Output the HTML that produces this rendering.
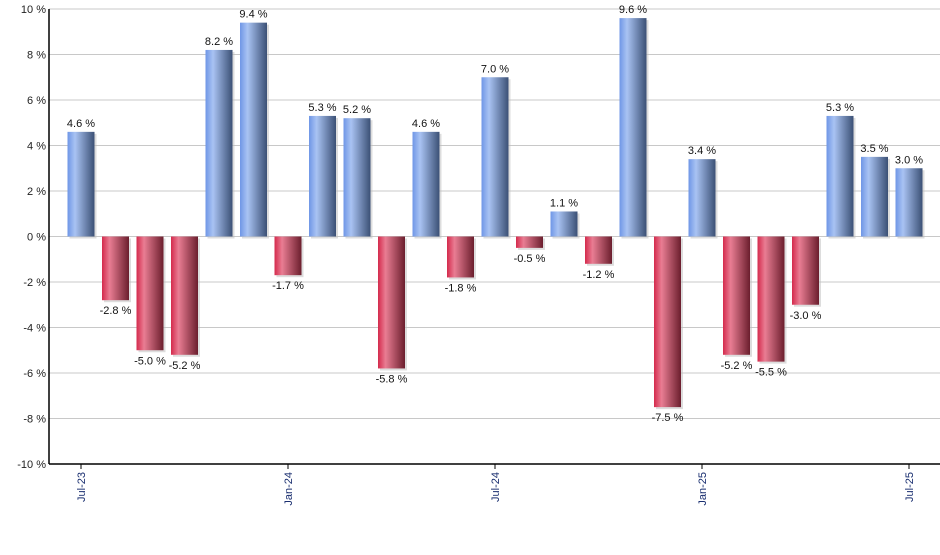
<!DOCTYPE html>
<html><head><meta charset="utf-8"><style>
body{margin:0;background:#fff;}
svg text{font-family:"Liberation Sans",sans-serif;font-size:11px;}
</style></head><body>
<svg id="chart" width="940" height="550" xmlns="http://www.w3.org/2000/svg">
<defs>
<linearGradient id="gb" x1="0" x2="1" y1="0" y2="0"><stop offset="0" stop-color="#6f96e6"/><stop offset="0.28" stop-color="#a9c3f3"/><stop offset="1" stop-color="#3b5075"/></linearGradient>
<linearGradient id="gr" x1="0" x2="1" y1="0" y2="0"><stop offset="0" stop-color="#d42a4c"/><stop offset="0.28" stop-color="#e97d93"/><stop offset="1" stop-color="#6b1e2d"/></linearGradient>
</defs>
<g id="grid"></g>
<g id="bars"></g>
<g id="axes"></g>
</svg>
<script>
const months = ["Jul-23","Aug-23","Sep-23","Oct-23","Nov-23","Dec-23","Jan-24","Feb-24","Mar-24","Apr-24","May-24","Jun-24","Jul-24","Aug-24","Sep-24","Oct-24","Nov-24","Dec-24","Jan-25","Feb-25","Mar-25","Apr-25","May-25","Jun-25","Jul-25"];
const values = [4.6,-2.8,-5.0,-5.2,8.2,9.4,-1.7,5.3,5.2,-5.8,4.6,-1.8,7.0,-0.5,1.1,-1.2,9.6,-7.5,3.4,-5.2,-5.5,-3.0,5.3,3.5,3.0];
const yTicks = [10,8,6,4,2,0,-2,-4,-6,-8,-10];
const xLabelIdx = [0,6,12,18,24];
const NS="http://www.w3.org/2000/svg";
const L=49,R=940,T=9,B=464;
const y=v=>T+(10-v)/20*(B-T);
const x=i=>81+i*34.5;
function mk(t,a,p,txt){const e=document.createElementNS(NS,t);for(const k in a)e.setAttribute(k,a[k]);if(txt!==undefined)e.textContent=txt;p.appendChild(e);return e;}
const grid=document.getElementById('grid'),bars=document.getElementById('bars'),axes=document.getElementById('axes');
yTicks.forEach(v=>{
  const g=mk('line',{x1:L,x2:R,y1:y(v),y2:y(v),stroke:'#c8c8c8','stroke-width':1},grid);
  
  
  const t=mk('text',{x:L-3,y:y(v)+4,'text-anchor':'end',fill:'#222'},axes,v+' %');
  
  
});
values.forEach((v,i)=>{
  const w=27,x0=x(i)-13.5,top=Math.min(y(v),y(0)),h=Math.abs(y(v)-y(0));
  const s=mk('rect',{x:x0+2,y:top+2,width:w,height:h,fill:'#bbb',opacity:0.5},bars);
  
  
  const r=mk('rect',{x:x0,y:top,width:w,height:h,fill:v>=0?'url(#gb)':'url(#gr)'},bars);
  
  
  const ly=v>=0?y(v)-5:y(v)+14;
  const t=mk('text',{x:x(i),y:ly,'text-anchor':'middle',fill:'#111'},bars,v.toFixed(1)+' %');
  
  
});
const ya=mk('line',{x1:L,x2:L,y1:T,y2:B,stroke:'#000','stroke-width':1.5},axes);


const xa=mk('line',{x1:L,x2:R,y1:B,y2:B,stroke:'#000','stroke-width':1.5},axes);


xLabelIdx.forEach(i=>{
  const tk=mk('line',{x1:x(i),x2:x(i),y1:B,y2:B+5,stroke:'#000'},axes);
  
  
  const t=mk('text',{x:0,y:0,'text-anchor':'end',fill:'#1a2f70',transform:`translate(${x(i)+4},${B+8}) rotate(-90)`},axes,months[i]);
  
  
});
</script>
</body></html>
